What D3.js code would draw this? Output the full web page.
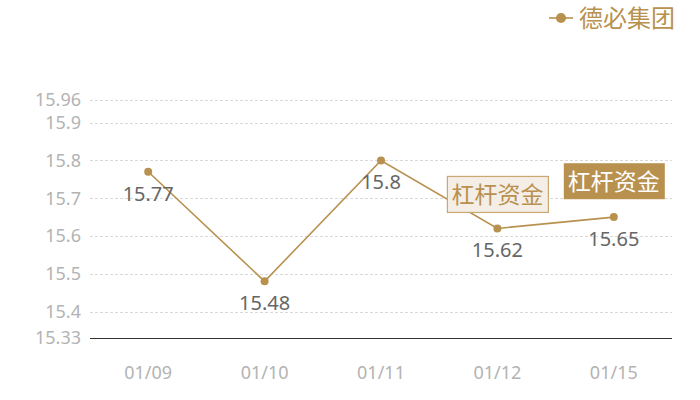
<!DOCTYPE html>
<html>
<head>
    <meta charset="utf-8">
    <style>
        body {
            margin: 0;
            background: #ffffff;
            font-family: "Noto Sans CJK SC", "Noto Sans", sans-serif;
        }

        .grid line {
            stroke: #d9d9d9;
            stroke-dasharray: 3, 2;
        }

        .y-label, .x-label {
            fill: #b3b3b3;
            font-family: "Noto Sans", sans-serif;
            font-size: 18px;
        }

        .value-label {
            fill: #666;
            font-family: "Noto Sans", sans-serif;
            font-size: 20px;
        }
    </style>
</head>
<body>
    <div id="chart"></div>
    <script src="https://cdnjs.cloudflare.com/ajax/libs/d3/7.8.5/d3.min.js"></script>
    <script>
        // data
        const dates = ["01/09", "01/10", "01/11", "01/12", "01/15"];
        const prices = [15.77, 15.48, 15.8, 15.62, 15.65];
        const yTicks = [15.33, 15.4, 15.5, 15.6, 15.7, 15.8, 15.9, 15.96];
        const seriesName = "德必集团";

        // the two "杠杆资金" tags
        const tagDates = ["01/12", "01/15"];
        const tagValues = [15.71, 15.745];
        const tagText = "杠杆资金";

        const gold = "#b8914f";
        const W = 700, H = 400;
        const margin = { top: 100, right: 28, bottom: 62, left: 90 };
        const width = W - margin.left - margin.right;
        const height = H - margin.top - margin.bottom;

        const svg = d3.select("#chart")
            .append("svg")
            .attr("width", W)
            .attr("height", H);

        const g = svg.append("g")
            .attr("transform", `translate(${margin.left},${margin.top})`);

        const x = d3.scalePoint()
            .domain(dates)
            .range([0, width])
            .padding(0.5);

        const y = d3.scaleLinear()
            .domain([15.33, 15.96])
            .range([height, 0]);

        // dashed grid lines
        g.append("g")
            .attr("class", "grid")
            .selectAll("line")
            .data(yTicks.filter(d => d !== 15.33))
            .enter()
            .append("line")
            .attr("x1", 0)
            .attr("x2", width)
            .attr("y1", d => Math.round(y(d)) + 0.5)
            .attr("y2", d => Math.round(y(d)) + 0.5);

        // y labels
        g.selectAll(".y-label")
            .data(yTicks)
            .enter()
            .append("text")
            .attr("class", "y-label")
            .attr("x", -9)
            .attr("y", d => y(d))
            .attr("dy", "0.36em")
            .attr("text-anchor", "end")
            .text(d => d);

        // base axis line
        g.append("line")
            .attr("x1", 0)
            .attr("x2", width)
            .attr("y1", height + 0.5)
            .attr("y2", height + 0.5)
            .attr("stroke", "#333")
            .attr("stroke-width", 1);

        // x labels
        g.selectAll(".x-label")
            .data(dates)
            .enter()
            .append("text")
            .attr("class", "x-label")
            .attr("x", d => x(d))
            .attr("y", height + 41)
            .attr("text-anchor", "middle")
            .text(d => d);

        const line = d3.line()
            .x((d, i) => x(dates[i]))
            .y(d => y(d));

        g.append("path")
            .datum(prices)
            .attr("fill", "none")
            .attr("stroke", gold)
            .attr("stroke-width", 1.6)
            .attr("d", line);

        g.selectAll(".dot")
            .data(prices)
            .enter()
            .append("circle")
            .attr("class", "dot")
            .attr("cx", (d, i) => x(dates[i]))
            .attr("cy", d => y(d))
            .attr("r", 4)
            .attr("fill", gold);

        g.selectAll(".value-label")
            .data(prices)
            .enter()
            .append("text")
            .attr("class", "value-label")
            .attr("x", (d, i) => x(dates[i]))
            .attr("y", d => y(d) + 29)
            .attr("text-anchor", "middle")
            .text(d => d);

        // tags
        tagDates.forEach((dt, i) => {
            const cx = x(dt), cy = y(tagValues[i]);
            const tag = g.append("g");
            const dark = i === 1;
            tag.append("rect")
                .attr("x", cx - 50)
                .attr("y", cy - 18)
                .attr("width", 101)
                .attr("height", 36)
                .attr("fill", dark ? gold : "#f4eee6")
                .attr("stroke", dark ? "none" : "#c9a874")
                .attr("stroke-width", 1.2);
            tag.append("text")
                .attr("x", cx)
                .attr("y", cy)
                .attr("dy", "0.36em")
                .attr("text-anchor", "middle")
                .attr("font-size", 23)
                .attr("fill", dark ? "#fff" : gold)
                .text(tagText);
        });

        // legend
        const legend = svg.append("g").attr("transform", "translate(549,18)");
        legend.append("line")
            .attr("x1", 0).attr("x2", 24)
            .attr("stroke", gold).attr("stroke-width", 1.6);
        legend.append("circle")
            .attr("cx", 12).attr("r", 5).attr("fill", gold);
        legend.append("text")
            .attr("x", 30)
            .attr("dy", "0.36em")
            .attr("font-size", 24)
            .attr("fill", gold)
            .text(seriesName);
    </script>
</body>
</html>
